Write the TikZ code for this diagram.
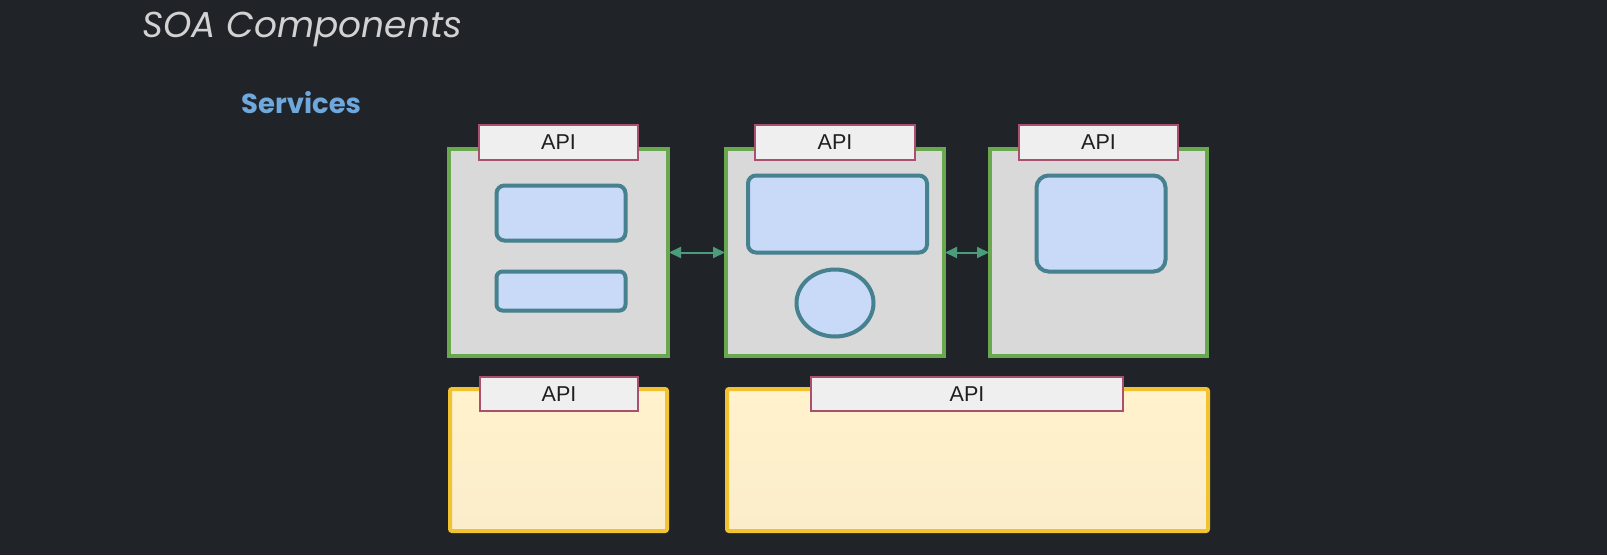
\documentclass[tikz,border=0pt]{standalone}
\usepackage{fontspec}
\setmainfont{Liberation Sans}
\newfontfamily\titlefont{Poppins}
\usetikzlibrary{shadows,arrows.meta,shapes.geometric}
\definecolor{bg}{HTML}{202428}
\definecolor{grnb}{HTML}{6AA84F}
\definecolor{grnf}{HTML}{D9D9D9}
\definecolor{apib}{HTML}{A8506E}
\definecolor{apif}{HTML}{EFEFEF}
\definecolor{innb}{HTML}{45818E}
\definecolor{innf}{HTML}{C9DAF8}
\definecolor{yelb}{HTML}{F1C232}
\definecolor{yelf}{HTML}{FFF2CC}
\definecolor{yelf2}{HTML}{FBEDCA}
\definecolor{arr}{HTML}{4A9C7A}
\definecolor{ttl}{HTML}{D2D2D2}
\definecolor{svc}{HTML}{6FA8DC}
\tikzset{
  svcbox/.style={draw=grnb, fill=grnf, line width=4pt, inner sep=0pt, outer sep=0pt, anchor=north west},
  dbbox/.style={draw=yelb, top color=yelf, middle color=yelf, bottom color=yelf2, line width=4pt, rounded corners=2pt, inner sep=0pt, outer sep=0pt, anchor=north west},
  apibox/.style={draw=apib, fill=apif, line width=2pt, inner sep=0pt, outer sep=0pt, anchor=north west, font=\fontsize{21.5}{24}\selectfont, text=black!88},
  innbox/.style={draw=innb, fill=innf, line width=4pt, rounded corners=8pt, inner sep=0pt, anchor=north west, drop shadow={opacity=0.25, shadow xshift=1pt, shadow yshift=-2pt}},
  link/.style={draw=arr, line width=2pt, {Triangle[length=12pt,width=11pt]}-{Triangle[length=12pt,width=11pt]}, shorten <=1pt, shorten >=1pt}
}
\begin{document}
\begin{tikzpicture}[x=1pt,y=-1pt]
\fill[bg] (0,0) rectangle (1607,555);
\useasboundingbox (0,0) rectangle (1607,555);
\node[anchor=base west, text=ttl, font=\titlefont\itshape\fontsize{36}{40}\selectfont, inner sep=0pt] (title) at (142,37) {SOA Components};
\node[anchor=base west, text=svc, font=\titlefont\bfseries\fontsize{27.5}{32}\selectfont, inner sep=0pt] (services) at (241,113) {Services};
% service boxes
\node[svcbox, minimum width=219pt, minimum height=207pt] (s1) at (449,149) {};
\node[svcbox, minimum width=218pt, minimum height=207pt] (s2) at (726,149) {};
\node[svcbox, minimum width=217pt, minimum height=207pt] (s3) at (990,149) {};
\node[apibox, minimum width=159pt, minimum height=35pt] (a1) at (479,125) {API};
\node[apibox, minimum width=160pt, minimum height=35pt] (a2) at (755,125) {API};
\node[apibox, minimum width=159pt, minimum height=35pt] (a3) at (1019,125) {API};
% inner components
\node[innbox, minimum width=129pt, minimum height=55pt] (c1) at (494.5,183.5) {};
\node[innbox, minimum width=129pt, minimum height=39pt, rounded corners=6pt] (c2) at (494.5,269.5) {};
\node[innbox, minimum width=179pt, minimum height=77pt] (c3) at (746,173.5) {};
\node[draw=innb, fill=innf, line width=4pt, ellipse, minimum width=77pt, minimum height=67pt, inner sep=0pt, drop shadow={opacity=0.25, shadow xshift=1pt, shadow yshift=-2pt}] (c4) at (835,303) {};
\node[innbox, minimum width=129pt, minimum height=96pt, rounded corners=12pt] (c5) at (1034.5,173.5) {};
% links
\draw[link] (s1.east) -- (s2.west);
\draw[link] (s2.east) -- (s3.west);
% data boxes
\node[dbbox, minimum width=217pt, minimum height=142pt] (d1) at (450,389) {};
\node[dbbox, minimum width=481pt, minimum height=142pt] (d2) at (727,389) {};
\node[apibox, minimum width=158pt, minimum height=34pt] (a4) at (480,377) {API};
\node[apibox, minimum width=312pt, minimum height=34pt] (a5) at (811,377) {API};
\end{tikzpicture}
\end{document}
